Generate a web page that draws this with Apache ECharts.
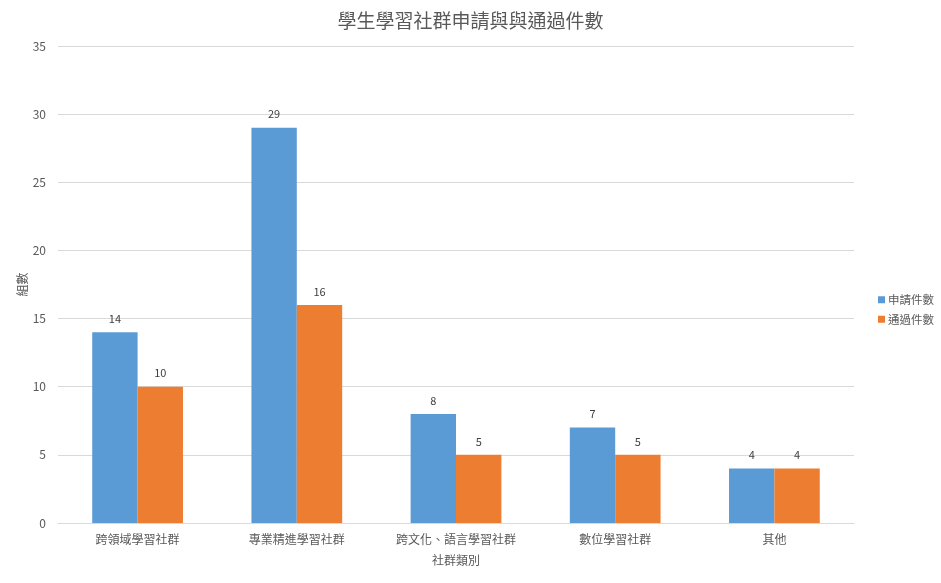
<!DOCTYPE html>
<html>
<head>
<meta charset="utf-8">
<script src="https://cdn.jsdelivr.net/npm/echarts@6/dist/echarts.min.js"></script>
<style>
  html, body { margin: 0; padding: 0; background: #fff; }
  #chart { width: 941px; height: 583px; }
</style>
</head>
<body>
<div id="chart"></div>
<script>
// chart data
const categories = ["跨領域學習社群", "專業精進學習社群", "跨文化、語言學習社群", "數位學習社群", "其他"];
const applied = [14, 29, 8, 7, 4];
const approved = [10, 16, 5, 5, 4];
const seriesNames = ["申請件數", "通過件數"];

const font = '"Microsoft JhengHei", "Noto Sans CJK TC", sans-serif';
const chart = echarts.init(document.getElementById("chart"));

const labelStyle = {
    show: true,
    position: "top",
    distance: 8,
    color: "#404040",
    fontSize: 11,
    fontFamily: font
};

chart.setOption({
    animation: false,
    textStyle: { fontFamily: font },
    title: {
        text: "學生學習社群申請與與通過件數",
        left: "center",
        top: 6,
        textStyle: { color: "#595959", fontSize: 19, fontWeight: "normal", fontFamily: font }
    },
    legend: {
        orient: "vertical",
        left: 873,
        top: 289,
        itemWidth: 7,
        itemHeight: 7,
        itemGap: 8,
        icon: "rect",
        textStyle: { color: "#595959", fontSize: 11.5, fontFamily: font, padding: [0, 0, 0, -2] },
        data: seriesNames
    },
    grid: { left: 58, right: 87, top: 46, bottom: 60 },
    xAxis: {
        type: "category",
        data: categories,
        name: "社群類別",
        nameLocation: "middle",
        nameGap: 31,
        nameTextStyle: { color: "#595959", fontSize: 12 },
        axisLine: { lineStyle: { color: "#d9d9d9" } },
        axisTick: { show: false },
        axisLabel: { color: "#595959", fontSize: 12, margin: 10 }
    },
    yAxis: {
        type: "value",
        min: 0,
        max: 35,
        interval: 5,
        name: "組數",
        nameLocation: "middle",
        nameGap: 30,
        nameMoveOverlap: false,
        nameTextStyle: { color: "#595959", fontSize: 12 },
        axisLabel: { color: "#595959", fontSize: 12, margin: 12 },
        splitLine: { lineStyle: { color: "#d9d9d9" } }
    },
    series: [
        {
            name: seriesNames[0],
            type: "bar",
            data: applied,
            barGap: "0%",
            barCategoryGap: "43%",
            itemStyle: { color: "#5B9BD5" },
            label: labelStyle
        },
        {
            name: seriesNames[1],
            type: "bar",
            data: approved,
            itemStyle: { color: "#ED7D31" },
            label: labelStyle
        }
    ]
});
</script>
</body>
</html>
